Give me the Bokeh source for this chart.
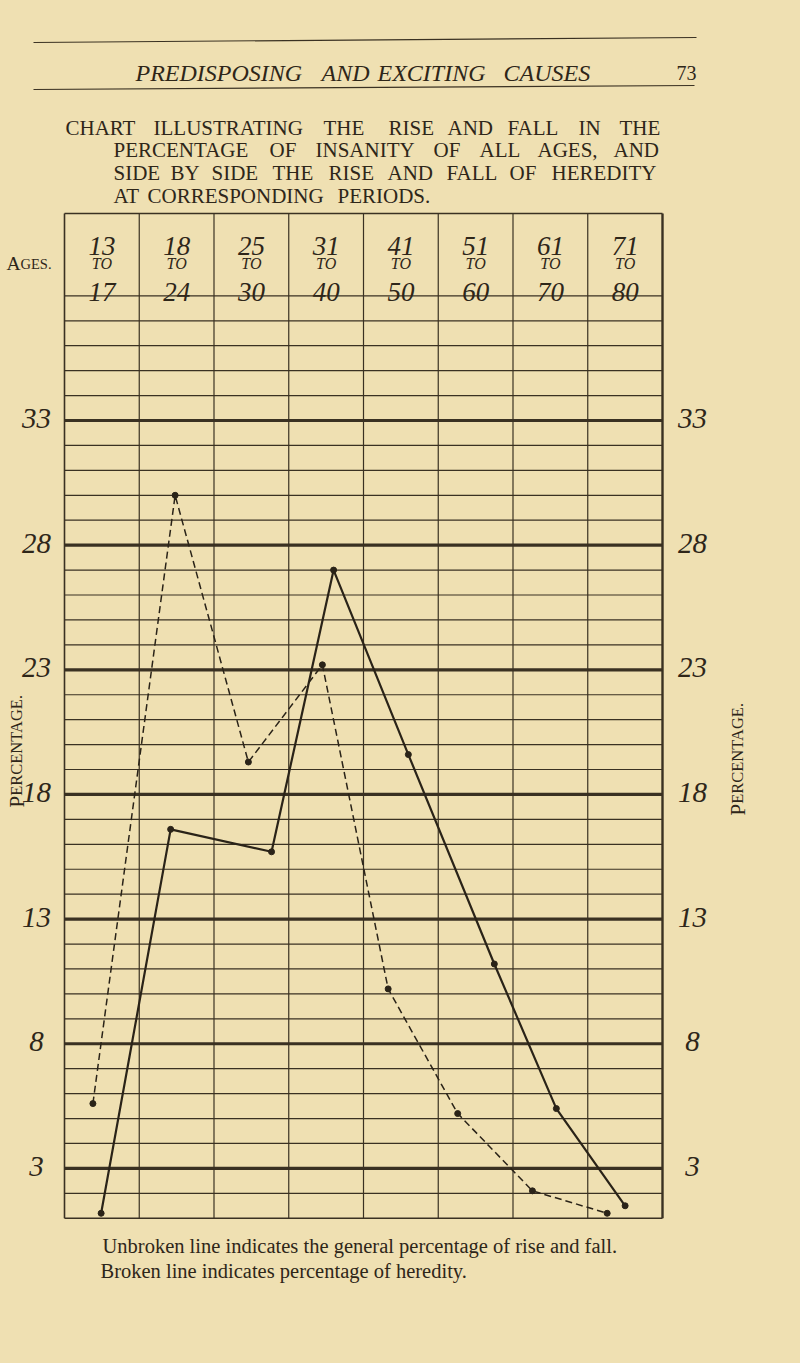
import math
from bokeh.plotting import figure
from bokeh.models import Range1d
from bokeh.core.properties import value
from bokeh.embed import file_html
from bokeh.resources import INLINE

# ---------------- data ----------------
age_from = ["13", "18", "25", "31", "41", "51", "61", "71"]
age_to = ["17", "24", "30", "40", "50", "60", "70", "80"]
pct_ticks = [33, 28, 23, 18, 13, 8, 3]
pct_labels = ["33", "28", "23", "18", "13", "8", "3"]

# unbroken line: general percentage of insanity (x = position across the age columns, 0..8)
general_x = [0.49, 1.42, 2.77, 3.60, 4.60, 5.75, 6.58, 7.50]
general_pct = [1.2, 16.6, 15.7, 27.0, 19.6, 11.2, 5.4, 1.5]

# broken line: percentage of heredity
heredity_x = [0.38, 1.48, 2.46, 3.45, 4.33, 5.26, 6.26, 7.26]
heredity_pct = [5.6, 30.0, 19.3, 23.2, 10.2, 5.2, 2.1, 1.2]

running_head = ["PREDISPOSING", "AND", "EXCITING", "CAUSES"]
page_no = "73"
title_lines = [
    ["CHART", "ILLUSTRATING", "THE", "RISE", "AND", "FALL", "IN", "THE"],
    ["PERCENTAGE", "OF", "INSANITY", "OF", "ALL", "AGES,", "AND"],
    ["SIDE", "BY", "SIDE", "THE", "RISE", "AND", "FALL", "OF", "HEREDITY"],
    ["AT", "CORRESPONDING", "PERIODS."],
]
caption_1 = "Unbroken line indicates the general percentage of rise and fall."
caption_2 = "Broken line indicates percentage of heredity."

# ---------------- layout ----------------
W, H = 800, 1360
PAPER = "#efe0b2"
INK = "#3a3122"
TEXT = "#2e2619"
SERIF = "Liberation Serif"

PX0, PXW = 64.0, 74.75      # page x of column 0, px per column
PY33, PYU = 420.0, 24.93    # page y of 33 %, px per percent


def X(px):
    return (px - PX0) / PXW


def Y(py):
    return 33 + (PY33 - py) / PYU


p = figure(width=W, height=H, x_range=Range1d(X(0), X(W)),
           y_range=Range1d(Y(H), Y(0)), x_axis_type=None, y_axis_type=None,
           toolbar_location=None, output_backend="svg", min_border=0,
           background_fill_color=PAPER, border_fill_color=PAPER,
           outline_line_color=None, title=None)

y_bot, y_head, y_top = 1, 38, Y(213)
ncol = len(age_from)

# horizontal rules of the chart
thin = [v for v in range(2, y_head + 1) if v not in pct_ticks]
p.segment(x0=0, y0=thin, x1=ncol, y1=thin, line_color=INK, line_width=1.2)
p.segment(x0=0, y0=pct_ticks, x1=ncol, y1=pct_ticks, line_color=INK, line_width=3.2)
# columns
cols = list(range(1, ncol))
p.segment(x0=cols, y0=y_bot, x1=cols, y1=y_top, line_color=INK, line_width=1.2)
# frame
p.segment(x0=[0, 0, 0], y0=[y_bot, y_bot, y_top], x1=[0, ncol, ncol], y1=[y_top, y_bot, y_top],
          line_color=INK, line_width=1.6)
p.segment(x0=ncol, y0=y_bot, x1=ncol, y1=y_top, line_color=INK, line_width=2.4)

# header of age columns
centers = [i + 0.5 for i in range(ncol)]
hdr = dict(text_font=value(SERIF), text_font_style="italic", text_align="center",
           text_baseline="alphabetic", text_color=TEXT)
p.text(x=centers, y=Y(245), text=age_from, text_font_size="27px", **hdr)
p.text(x=centers, y=Y(263), text=["TO"] * ncol, text_font_size="16px", **hdr)
p.text(x=centers, y=Y(291), text=age_to, text_font_size="27px", **hdr)

# "AGES." in small capitals
p.text(x=X(6), y=Y(263), text=["A"], text_font=value(SERIF), text_font_size="19.5px",
       text_align="left", text_baseline="alphabetic", text_color=TEXT)
p.text(x=X(20), y=Y(263), text=["GES."], text_font=value(SERIF), text_font_size="14.5px",
       text_align="left", text_baseline="alphabetic", text_color=TEXT)

# percentage labels both sides
lab_y = [v + 0.08 for v in pct_ticks]
for px in (36, 692):
    p.text(x=X(px), y=lab_y, text=pct_labels, text_font=value(SERIF), text_font_style="italic",
           text_font_size="29px", text_align="center", text_baseline="middle", text_color=TEXT)

# "PERCENTAGE." vertical, both sides
for bx, by in ((16, 807), (737, 815)):
    p.text(x=X(bx), y=Y(by), text=["P"], angle=math.pi / 2, text_font=value(SERIF),
           text_font_size="21px", text_align="left", text_baseline="alphabetic", text_color=TEXT)
    p.text(x=X(bx), y=Y(by - 11.7), text=["ERCENTAGE."], angle=math.pi / 2,
           text_font=value(SERIF), text_font_size="16.5px", text_align="left",
           text_baseline="alphabetic", text_color=TEXT)

# running head and rules
p.segment(x0=[X(33), X(33)], y0=[Y(42), Y(89)], x1=[X(696), X(694)], y1=[Y(37), Y(85)],
          line_color=INK, line_width=1.1)
p.text(x=[X(v) for v in (135, 321, 377, 503)], y=Y(72), text=running_head,
       text_font=value(SERIF), text_font_style="italic", text_font_size="24px",
       text_align="left", text_baseline="alphabetic", text_color=TEXT)
p.text(x=X(696), y=Y(72.5), text=[page_no], text_font=value(SERIF), text_font_size="20px",
       text_align="right", text_baseline="alphabetic", text_color=TEXT)

# chart title (justified, word by word)
word_x = [
    [65, 153, 323, 388, 447, 507, 578, 619],
    [113, 269, 315, 433, 479, 537, 613],
    [113, 170, 211, 272, 328, 387, 446, 509, 551],
    [113, 147, 337],
]
base_y = [127, 149, 172, 195]
for ws, xs, by in zip(title_lines, word_x, base_y):
    p.text(x=[X(v) for v in xs], y=Y(by), text=ws, text_font=value(SERIF),
           text_font_size="21px", text_align="left", text_baseline="alphabetic",
           text_color=TEXT)

# caption
p.text(x=X(102), y=Y(1245), text=[caption_1], text_font=value(SERIF), text_font_size="20.5px",
       text_align="left", text_baseline="alphabetic", text_color=TEXT)
p.text(x=X(100), y=Y(1270), text=[caption_2], text_font=value(SERIF), text_font_size="20.5px",
       text_align="left", text_baseline="alphabetic", text_color=TEXT)

# the two series
p.line(general_x, general_pct, line_color="#2a2318", line_width=2.2)
p.scatter(general_x, general_pct, size=6, fill_color="#2a2318", line_color="#2a2318")
p.line(heredity_x, heredity_pct, line_color="#2a2318", line_width=1.5, line_dash="7 4")
p.scatter(heredity_x, heredity_pct, size=6, fill_color="#2a2318", line_color="#2a2318")

html = file_html(p, INLINE).replace("<body>", '<body style="background-color:%s;">' % PAPER)
open("out.html", "w").write(html)
